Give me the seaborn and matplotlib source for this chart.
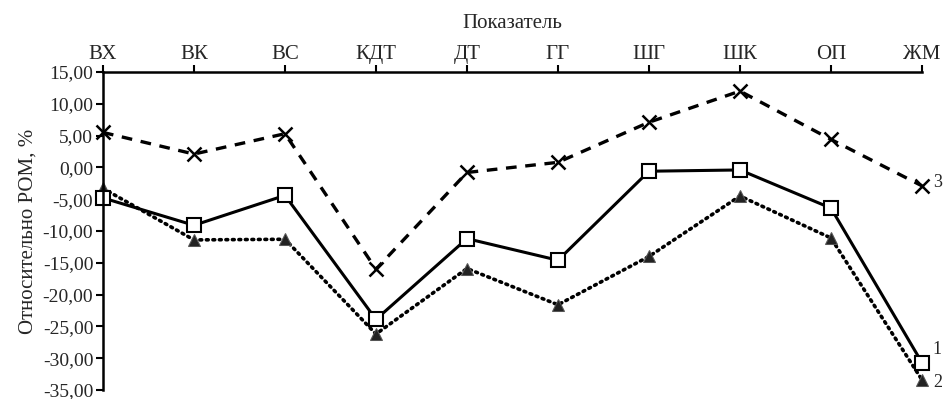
import numpy as np
import pandas as pd
import matplotlib
matplotlib.use("Agg")
import matplotlib.pyplot as plt
import seaborn as sns
from matplotlib.ticker import FuncFormatter

# Data
categories = ["ВХ", "ВК", "ВС", "КДТ", "ДТ", "ГГ", "ШГ", "ШК", "ОП", "ЖМ"]
series_1 = [-4.8, -9.1, -4.4, -23.9, -11.2, -14.6, -0.6, -0.4, -6.4, -30.7]
series_2 = [-3.3, -11.4, -11.3, -26.2, -15.9, -21.6, -14.0, -4.5, -11.1, -33.4]
series_3 = [5.5, 2.1, 5.3, -16.0, -0.8, 0.8, 7.1, 12.0, 4.4, -2.9]
yticks = [15, 10, 5, 0, -5, -10, -15, -20, -25, -30, -35]

sns.set_style("ticks")
plt.rcParams["font.family"] = ["Liberation Serif", "DejaVu Serif"]

fig = plt.figure(figsize=(9.43, 3.99), dpi=100)
ax = fig.add_axes([0.1092, 0.0226, 0.9777 - 0.1092, 0.8195 - 0.0226])

pos = np.arange(len(categories))
df = pd.DataFrame({"pos": pos, "s1": series_1, "s2": series_2, "s3": series_3})

# series 3: dashed with x markers
sns.lineplot(data=df, x="pos", y="s3", ax=ax, color="black", linewidth=2.4,
             marker="x", markersize=10, markeredgewidth=1.8,
             markeredgecolor="black")
ax.lines[-1].set_dashes([3.2, 2.6])

# series 2: dotted with filled triangles
sns.lineplot(data=df, x="pos", y="s2", ax=ax, color="black", linewidth=2.6,
             marker="^", markersize=9, markerfacecolor="#222222",
             markeredgecolor="#555555")
ax.lines[-1].set_linestyle((0, (0.5, 1.3)))
ax.lines[-1].set_dash_capstyle("round")

# series 1: solid with white squares
sns.lineplot(data=df, x="pos", y="s1", ax=ax, color="black", linewidth=2.2,
             marker="s", markersize=10, markerfacecolor="white",
             markeredgecolor="black", markeredgewidth=1.5)

# end labels
for lab, vals, dy in [("1", series_1, 2.0), ("2", series_2, -0.5), ("3", series_3, 0.5)]:
    ax.text(pos[-1] + 0.12, vals[-1] + dy, lab, fontsize=13, va="center", ha="left")

ax.set_xlim(pos[0], pos[-1])
ax.set_ylim(-35, 15)
ax.set_xticks(pos)
ax.set_xticklabels(categories)
ax.set_yticks(yticks)
ax.yaxis.set_major_formatter(FuncFormatter(lambda v, p: f"{v:.2f}".replace(".", ",")))

ax.xaxis.tick_top()
ax.xaxis.set_label_position("top")
ax.set_xlabel("Показатель", fontsize=15, labelpad=12)
ax.set_ylabel("Относительно РОМ, %", fontsize=15, labelpad=4)
ax.tick_params(axis="both", labelsize=14, direction="out", length=5, width=1.5,
               color="black", pad=2)
ax.tick_params(axis="x", labelsize=15, pad=1)

for s in ["bottom", "right"]:
    ax.spines[s].set_visible(False)
for s in ["top", "left"]:
    ax.spines[s].set_linewidth(1.8)
    ax.spines[s].set_color("black")

for line in ax.lines:
    line.set_clip_on(False)

fig.savefig("out.png", dpi=100)
